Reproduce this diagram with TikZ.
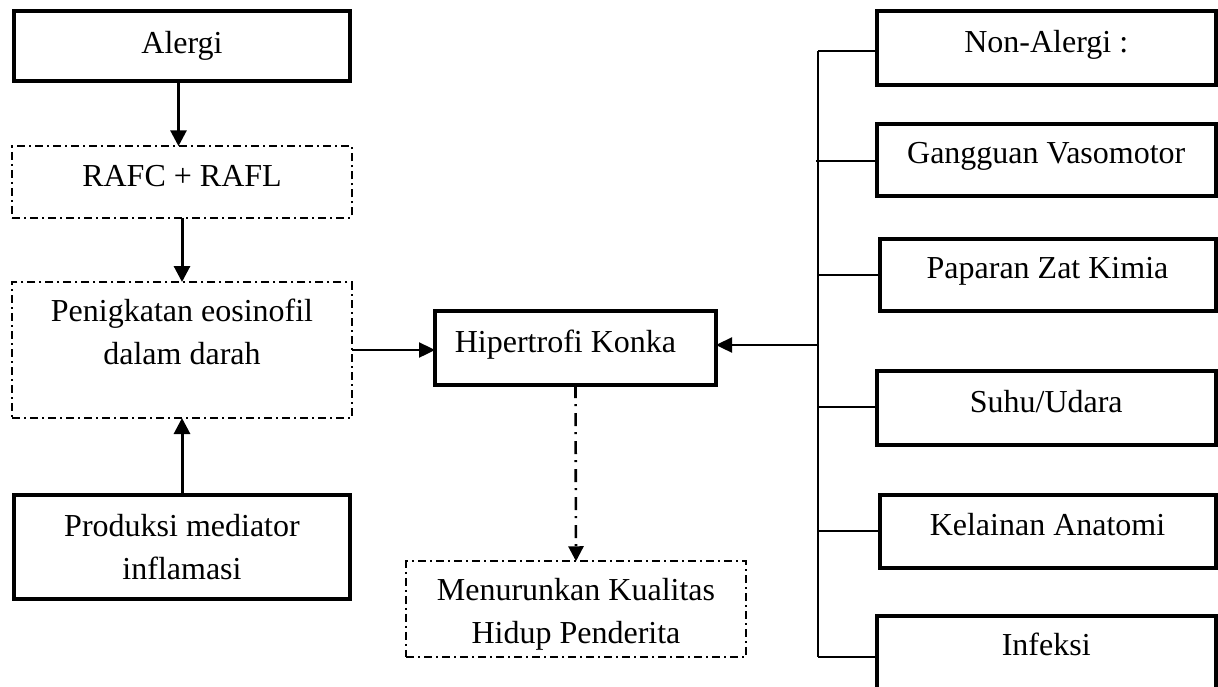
\documentclass[tikz,border=0pt]{standalone}
\usepackage{fontspec}
\setmainfont{Liberation Serif}
\usetikzlibrary{arrows.meta}
\newcommand\btx[2]{\raisebox{-#1pt}[0pt][0pt]{\begin{tabular}[t]{@{}c@{}}#2\end{tabular}}}
\begin{document}
\begin{tikzpicture}[x=1pt,y=-1pt,
  every node/.style={inner sep=0pt,outer sep=0pt,font=\fontsize{32}{43}\selectfont},
  tbox/.style={draw,line width=4pt,rectangle},
  dbox/.style={draw,line width=2pt,rectangle,dash pattern=on 8pt off 4pt on 2pt off 4pt},
  arr/.style={line width=3pt,-{Triangle[length=16pt,width=16pt]}},
  arrthin/.style={line width=2.4pt,-{Triangle[length=16pt,width=15pt]}},
  darr/.style={line width=2.6pt,dash pattern=on 13pt off 6pt on 2pt off 7pt,-{Triangle[length=15pt,width=15pt]}},
  stub/.style={line width=2pt}]
\useasboundingbox (0,0) rectangle (1218,686);
\clip (0,0) rectangle (1218,686);
% left column
\node[tbox,minimum width=336.5,minimum height=70.5] (alergi) at (182,46) {\btx{7}{Alergi}};
\node[dbox,minimum width=339.5,minimum height=71.5] (rafc) at (182,182) {\btx{4}{RAFC + RAFL}};
\node[dbox,minimum width=339.5,minimum height=136] (pen) at (182,350) {\btx{-28.5}{Penigkatan eosinofil\\dalam darah}};
\node[tbox,minimum width=336.5,minimum height=103.5] (prod) at (182,547) {\btx{-10.5}{Produksi mediator\\inflamasi}};
% centre
\node[tbox,minimum width=281,minimum height=74] (hip) at (575.5,348) {\btx{4}{Hipertrofi Konka\hspace*{20pt}}};
\node[dbox,minimum width=340,minimum height=95.5] (men) at (576,609) {\btx{-8.5}{Menurunkan Kualitas\\Hidup Penderita}};
% right column
\node[tbox,minimum width=338.5,minimum height=73.5] (nonal) at (1046.25,48) {\btx{4.5}{Non-Alergi :}};
\node[tbox,minimum width=338.5,minimum height=72.5] (gang) at (1046.25,160) {\btx{3.8}{Gangguan Vasomotor}};
\node[tbox,minimum width=336,minimum height=72.5] (pap) at (1047.5,275) {\btx{3.8}{Paparan Zat Kimia}};
\node[tbox,minimum width=338.5,minimum height=74] (suhu) at (1046.25,408) {\btx{4}{Suhu/Udara}};
\node[tbox,minimum width=336,minimum height=73] (kel) at (1047.5,531.5) {\btx{4}{Kelainan Anatomi}};
\node[tbox,minimum width=338.5,minimum height=84] (inf) at (1046.25,658) {\btx{-2.5}{Infeksi}};
% bus coordinates
\coordinate (b1) at (818,51);
\coordinate (b2) at (818,161);
\coordinate (b3) at (818,275);
\coordinate (bh) at (818,345);
\coordinate (b4) at (818,407);
\coordinate (b5) at (818,531);
\coordinate (b6) at (818,657);
% left connectors
\draw[arr] ([xshift=-3.5pt]alergi.south) -- ([xshift=-3.5pt]alergi.south |- rafc.north);
\draw[arr] (rafc.south) -- (pen.north);
\draw[arr] (prod.north) -- (pen.south);
\draw[arrthin] (pen.east) -- (pen.east -| hip.west);
\draw[darr] (hip.south) -- (men.north);
% right bus
\draw[stub] (b1) -- (b6);
\draw[stub] (b1) -- (b1 -| nonal.west);
\draw[stub] ([xshift=-2pt]b2) -- (b2 -| gang.west);
\draw[stub] (b3) -- (b3 -| pap.west);
\draw[stub] (b4) -- (b4 -| suhu.west);
\draw[stub] (b5) -- (b5 -| kel.west);
\draw[stub] (b6) -- (b6 -| inf.west);
\draw[arrthin] (bh) -- (bh -| hip.east);
\end{tikzpicture}
\end{document}
